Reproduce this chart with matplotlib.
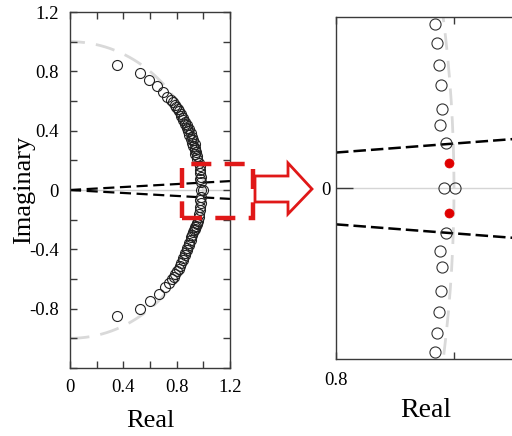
import numpy as np
import matplotlib
matplotlib.use("Agg")
import matplotlib.pyplot as plt
from matplotlib.patches import Rectangle, Polygon

plt.rcParams['font.family'] = ['Liberation Serif', 'DejaVu Serif']

# ---- data ----
re_top = [0.35, 0.525, 0.59, 0.65, 0.70, 0.73,
          0.755, 0.77, 0.785, 0.795, 0.81, 0.815, 0.83, 0.835, 0.85, 0.845,
          0.865, 0.86, 0.88, 0.875, 0.895, 0.885, 0.905, 0.895, 0.915, 0.905,
          0.925, 0.915, 0.935, 0.925, 0.94, 0.935, 0.945, 0.94, 0.955, 0.95,
          0.967, 0.972, 0.974, 0.978, 0.980, 0.976, 0.986]
im_top = [0.845, 0.789, 0.74, 0.70, 0.66, 0.63,
          0.61, 0.59, 0.575, 0.56, 0.545, 0.53, 0.515, 0.50, 0.485, 0.47,
          0.46, 0.445, 0.435, 0.42, 0.41, 0.395, 0.385, 0.37, 0.36, 0.345,
          0.335, 0.32, 0.31, 0.295, 0.285, 0.27, 0.255, 0.24, 0.23, 0.21,
          0.183, 0.162, 0.138, 0.115, 0.089, 0.071, 0.051]
re_bot = [0.35, 0.525, 0.60, 0.665, 0.715, 0.745,
          0.765, 0.78, 0.79, 0.805, 0.815, 0.825, 0.835, 0.845, 0.85, 0.86,
          0.865, 0.875, 0.88, 0.89, 0.895, 0.905, 0.91, 0.915, 0.92, 0.93,
          0.935, 0.94, 0.945, 0.95, 0.955, 0.96,
          0.967, 0.971, 0.975, 0.978, 0.980, 0.977, 0.986]
im_bot = [-0.847, -0.80, -0.745, -0.70, -0.655, -0.625,
          -0.60, -0.585, -0.565, -0.545, -0.53, -0.51, -0.495, -0.475, -0.46, -0.44,
          -0.425, -0.405, -0.39, -0.37, -0.355, -0.335, -0.32, -0.30, -0.285, -0.27,
          -0.26, -0.25, -0.24, -0.23, -0.22, -0.21,
          -0.182, -0.161, -0.138, -0.114, -0.088, -0.070, -0.050]
re_axis = [0.983, 1.001]
im_axis = [0.0, 0.0]
re_red = [0.991, 0.991]
im_red = [0.0286, -0.027]
line_slope = 0.05
circle_radius = 1.0

x_ticks_left = [0, 0.4, 0.8, 1.2]
x_ticklabels_left = ['0', '0.4', '0.8', '1.2']
y_ticks_left = [-0.8, -0.4, 0, 0.4, 0.8, 1.2]
y_ticklabels_left = ['-0.8', '-0.4', '0', '0.4', '0.8', '1.2']

W, H = 512, 436
fig = plt.figure(figsize=(W / 100, H / 100), dpi=100)

def fx(px):
    return px / W

def fy(py):
    return 1 - py / H

gray_c = '#d9d9d9'
spine_c = '#3a3a3a'

# ---------------- left panel ----------------
axL = fig.add_axes([fx(70), fy(368), (230 - 70) / W, (368 - 12) / H])
axL.set_xlim(0, 1.2)
axL.set_ylim(-1.2, 1.2)
th = np.linspace(-np.pi / 2, np.pi / 2, 400)
axL.plot(circle_radius * np.cos(th), circle_radius * np.sin(th), color=gray_c,
         lw=2.0, dashes=(7, 4), zorder=1)
axL.axhline(0, color='#cfcfcf', lw=1.0, zorder=1)
xs = np.array([0, 1.2])
axL.plot(xs, line_slope * xs, color='black', lw=1.6, dashes=(5, 2.5), zorder=2)
axL.plot(xs, -line_slope * xs, color='black', lw=1.6, dashes=(5, 2.5), zorder=2)
for re, im in [(re_top, im_top), (re_bot, im_bot), (re_axis, im_axis)]:
    axL.plot(re, im, 'o', ms=7.2, mfc='none', mec='#222222', mew=0.8, zorder=3)
axL.set_xticks(x_ticks_left)
axL.set_xticklabels(x_ticklabels_left)
axL.set_yticks(y_ticks_left)
axL.set_yticklabels(y_ticklabels_left)
axL.set_xticks([0.2, 0.6, 1.0], minor=True)
axL.set_yticks([-1.2, -1.0, -0.6, -0.2, 0.2, 0.6, 1.0], minor=True)
axL.tick_params(which='both', direction='in', top=True, right=True,
                length=5, width=1, color=spine_c, labelsize=13.5, pad=8)
for s in axL.spines.values():
    s.set_color(spine_c)
    s.set_linewidth(1.0)
axL.set_xlabel('Real', fontsize=19, labelpad=10)
axL.set_ylabel('Imaginary', fontsize=19)
axL.yaxis.set_label_coords((35 - 70) / 160, 0.5)

# red dashed zoom box
rect = Rectangle((0.838, -0.19), 1.375 - 0.838, 0.175 + 0.19, fill=False,
                 edgecolor='#e01818', lw=3.2, linestyle=(0, (4.5, 3)),
                 clip_on=False, zorder=5, transform=axL.transData)
axL.add_patch(rect)

# arrow (figure pixel coordinates)
arrow_px = [(255, 176), (288, 176), (288, 163), (312, 189), (288, 214),
            (288, 202), (255, 202)]
arrow_pts = [(fx(x), fy(y)) for x, y in arrow_px]
fig.patches.append(Polygon(arrow_pts, closed=True, facecolor='white',
                           edgecolor='#e01818', lw=2.0,
                           transform=fig.transFigure, figure=fig))

# ---------------- right panel ----------------
axR = fig.add_axes([fx(336), fy(359), (572 - 336) / W, (359 - 17) / H])
axR.set_xlim(0.8, 1.2)
axR.set_ylim(-0.19, 0.191)
axR.plot(circle_radius * np.cos(th), circle_radius * np.sin(th), color=gray_c,
         lw=2.0, dashes=(6, 4), zorder=1)
axR.axhline(0, color='#d5d5d5', lw=1.0, zorder=1)
xs2 = np.array([0.8, 1.2])
axR.plot(xs2, line_slope * xs2, color='black', lw=1.8, dashes=(5, 2), zorder=2)
axR.plot(xs2, -line_slope * xs2, color='black', lw=1.8, dashes=(5, 2), zorder=2)
for re, im in [(re_top, im_top), (re_bot, im_bot), (re_axis, im_axis)]:
    axR.plot(re, im, 'o', ms=8, mfc='none', mec='#333333', mew=0.8, zorder=3)
axR.plot(re_red, im_red, 'o', ms=6.5, mfc='#e00000', mec='#e00000', mew=0.5,
         zorder=4)
axR.set_xticks([0.8, 1.0])
axR.set_xticklabels(['0.8', ''])
axR.set_yticks([0])
axR.set_yticklabels(['0'])
axR.tick_params(axis='x', direction='in', top=True, length=5, width=1,
                color=spine_c, labelsize=13.5, pad=9)
axR.tick_params(axis='y', direction='in', length=12, width=1, color=spine_c,
                labelsize=13.5, pad=4)
axR.spines['right'].set_visible(False)
for s in ['left', 'top', 'bottom']:
    axR.spines[s].set_color(spine_c)
    axR.spines[s].set_linewidth(1.0)
axR.set_xlabel('Real', fontsize=20)
axR.xaxis.set_label_coords((425.7 - 336) / (572 - 336), -0.115)

fig.savefig('out.png', dpi=100)
